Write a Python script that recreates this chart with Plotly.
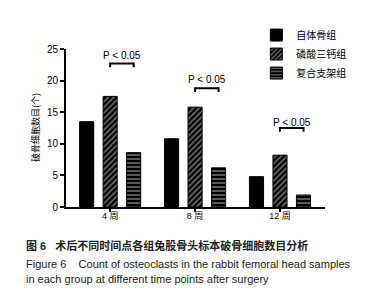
import plotly.graph_objects as go

categories = ["4 周", "8 周", "12 周"]
series_names = ["自体骨组", "磷酸三钙组", "复合支架组"]
autologous = [13.5, 10.8, 4.8]
tcp = [17.5, 15.8, 8.2]
composite = [8.6, 6.2, 1.9]
y_ticks = [0, 5, 10, 15, 20, 25]
p_text = "P < 0.05"
bracket_tops = [22.7, 18.8, 12.5]
text_y = [23.9, 20.2, 13.3]
y_title = "破骨细胞数目(个)"

FONT = "Liberation Sans, Arial, Noto Sans CJK SC"
idx = list(range(len(categories)))

fig = go.Figure()
patterns = ["", "/", "-"]
values = [autologous, tcp, composite]
for name, vals, pat in zip(series_names, values, patterns):
    fig.add_trace(go.Bar(
        x=idx, y=vals, name=name,
        marker=dict(color="black", line=dict(color="black", width=1),
                    pattern=dict(shape=pat, fgcolor="white", bgcolor="black",
                                 size=4, solidity=0.35) if pat else None),
    ))

slot = (1 - 0.17) / 3
for i in idx:
    x0 = i
    x1 = i + slot
    top = bracket_tops[i]
    low = top - 0.6
    fig.add_shape(type="path",
                  path=f"M {x0} {low} L {x0} {top} L {x1} {top} L {x1} {low}",
                  line=dict(color="black", width=2))
    fig.add_annotation(x=(x0 + x1) / 2, y=text_y[i], text=p_text, showarrow=False,
                       font=dict(size=10, color="black", family=FONT))

fig.update_layout(
    width=379, height=300,
    margin=dict(l=58, r=62, t=37, b=101),
    barmode="group", bargap=0.17, bargroupgap=0.4,
    plot_bgcolor="white", paper_bgcolor="white",
    font=dict(family=FONT, size=10, color="black"),
    showlegend=True,
    legend=dict(x=0.735, y=1.18, xanchor="left", yanchor="top",
                font=dict(size=10, family="Noto Sans CJK SC"),
                bgcolor="rgba(0,0,0,0)", tracegroupgap=0, itemwidth=30),
    xaxis=dict(range=[-0.52, 2.53], tickvals=idx, ticktext=categories,
               showline=True, linecolor="black", linewidth=2,
               ticks="outside", tickcolor="black", ticklen=3, tickwidth=2,
               ticklabelstandoff=-4,
               showgrid=False, zeroline=False,
               tickfont=dict(size=9, family="Liberation Sans, Noto Sans CJK SC")),
    yaxis=dict(range=[0, 25], tickvals=y_ticks,
               showline=True, linecolor="black", linewidth=2,
               ticks="outside", tickcolor="black", ticklen=4, tickwidth=2,
               showgrid=False, zeroline=False,
               tickfont=dict(size=10)),
)

fig.add_annotation(x=(27 - 58) / 259, y=0.5, xref="paper", yref="paper",
                   text=y_title, textangle=-90, showarrow=False,
                   xanchor="center", yanchor="middle",
                   font=dict(size=9, family="Noto Sans CJK SC", color="black"))

captions = [
    ("<b>图 6   术后不同时间点各组兔股骨头标本破骨细胞数目分析</b>", 238),
    ("Figure 6    Count of osteoclasts in the rabbit femoral head samples", 257),
    ("in each group at different time points after surgery", 273),
]
for txt, ypx in captions:
    fig.add_annotation(x=(16 - 58) / 259, y=(199 - ypx) / 162, xref="paper", yref="paper",
                       text=txt, showarrow=False, xanchor="left", yanchor="middle",
                       font=dict(size=11, family="Liberation Sans, Noto Sans CJK SC",
                                 color="#222"))

fig.write_html("out.html")
